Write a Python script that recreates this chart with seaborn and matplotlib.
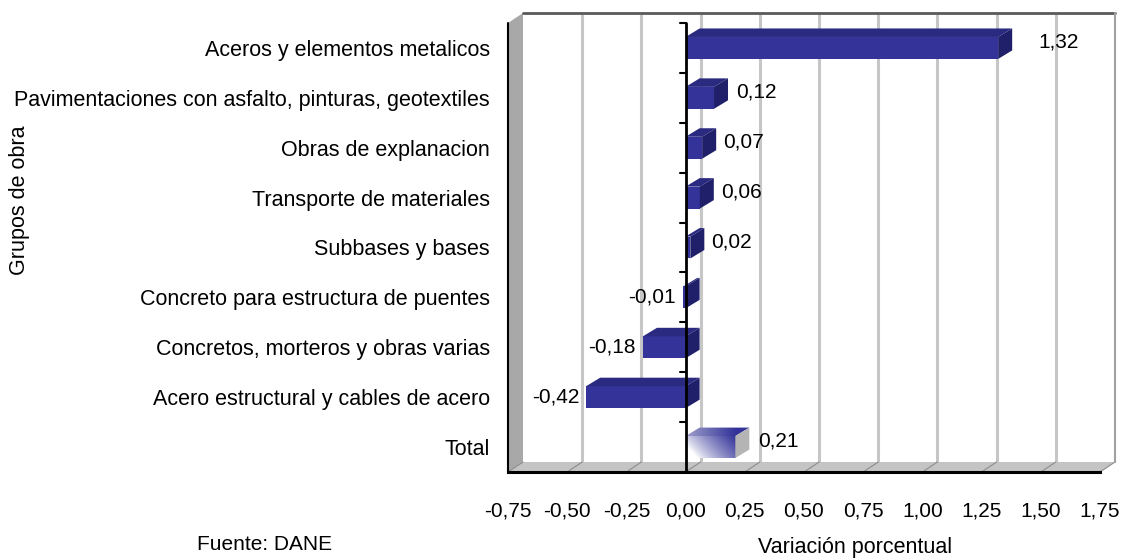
import numpy as np
import pandas as pd
import matplotlib
matplotlib.use("Agg")
import matplotlib.pyplot as plt
from matplotlib.patches import Polygon
import seaborn as sns

# ---------------- data ----------------
categories = [
    "Aceros y elementos metalicos",
    "Pavimentaciones con asfalto, pinturas, geotextiles",
    "Obras de explanacion",
    "Transporte de materiales",
    "Subbases y bases",
    "Concreto para estructura de puentes",
    "Concretos, morteros y obras varias",
    "Acero estructural y cables de acero",
    "Total",
]
values = [1.32, 0.12, 0.07, 0.06, 0.02, -0.01, -0.18, -0.42, 0.21]
value_labels = ["1,32", "0,12", "0,07", "0,06", "0,02", "-0,01", "-0,18", "-0,42", "0,21"]
xticks = [-0.75, -0.50, -0.25, 0.00, 0.25, 0.50, 0.75, 1.00, 1.25, 1.50, 1.75]
xtick_labels = ["-0,75", "-0,50", "-0,25", "0,00", "0,25", "0,50", "0,75",
                "1,00", "1,25", "1,50", "1,75"]
x_title = "Variación porcentual"
y_title = "Grupos de obra"
source = "Fuente: DANE"

# ---------------- style ----------------
sns.set_style("white")
plt.rcParams['font.family'] = ['Liberation Sans', 'DejaVu Sans']
plt.rcParams['text.color'] = 'black'
plt.rcParams['xtick.color'] = 'black'
plt.rcParams['ytick.color'] = 'black'
plt.rcParams['axes.labelcolor'] = 'black'

NAVY = "#333399"
TOP = "#2a2a80"
SIDE = "#20206a"

W, H = 1123, 560
fig = plt.figure(figsize=(W / 100, H / 100), dpi=100)
L, R, T, B = 508, 1100, 23, 472
ax = fig.add_axes([L / W, 1 - B / H, (R - L) / W, (B - T) / H])

df = pd.DataFrame({"grupo": categories, "valor": values})
sns.barplot(data=df, x="valor", y="grupo", orient="h", color=NAVY,
            saturation=1, width=0.44, linewidth=0, edgecolor="none",
            ax=ax, zorder=5)

n = len(categories)
ax.set_xlim(xticks[0], xticks[-1])
ax.set_ylim(n - 0.5, -0.5)
ax.set_xlabel("")
ax.set_ylabel("")

px_x = (R - L) / (xticks[-1] - xticks[0])   # pixels per data unit
px_y = (B - T) / n                            # pixels per category
DXw, DYw = 15 / px_x, 10 / px_y               # wall depth
DXb, DYb = 14 / px_x, 8.5 / px_y              # bar depth

x0a, x1a = xticks[0], xticks[-1]
ytop, ybot = -0.5, n - 0.5

# back wall
ax.add_patch(Polygon([(x0a + DXw, ytop - DYw), (x1a + DXw, ytop - DYw),
                      (x1a + DXw, ybot - DYw), (x0a + DXw, ybot - DYw)],
                     closed=True, facecolor="white", edgecolor="none",
                     zorder=0, clip_on=False))
# gridlines on back wall
for t in xticks[1:-1]:
    ax.plot([t + DXw, t + DXw], [ybot - DYw, ytop - DYw], color="#c6c6c6",
            lw=2.2, zorder=0.6, clip_on=False, solid_capstyle="butt")
# wall top and right border
ax.plot([x0a + DXw, x1a + DXw], [ytop - DYw, ytop - DYw], color="#5a5a5a",
        lw=2, zorder=1.5, clip_on=False)
ax.plot([x1a + DXw, x1a + DXw], [ytop - DYw, ybot - DYw], color="#a0a0a0",
        lw=1.5, zorder=1.5, clip_on=False)
# left side wall
ax.add_patch(Polygon([(x0a, ytop), (x0a + DXw, ytop - DYw),
                      (x0a + DXw, ybot - DYw), (x0a, ybot)],
                     closed=True, facecolor="#a8a8a8", edgecolor="none",
                     zorder=1, clip_on=False))
ax.plot([x0a, x0a], [ytop, ybot], color="black", lw=1.5, zorder=2, clip_on=False)
# floor
ax.add_patch(Polygon([(x0a, ybot), (x1a, ybot),
                      (x1a + DXw, ybot - DYw), (x0a + DXw, ybot - DYw)],
                     closed=True, facecolor="#c4c4c4", edgecolor="none",
                     zorder=1, clip_on=False))
for t in xticks:
    ax.plot([t, t + DXw], [ybot, ybot - DYw], color="#8c8c8c", lw=0.8,
            zorder=1.2, clip_on=False)

# ---------------- 3D bar faces ----------------
bars = [p for p in ax.patches if p.get_zorder() == 5][:n]
for i, p in enumerate(bars):
    xa = p.get_x(); w = p.get_width(); y0 = p.get_y(); h = p.get_height()
    xmin, xmax = min(xa, xa + w), max(xa, xa + w)
    yt, yb = min(y0, y0 + h), max(y0, y0 + h)
    top = Polygon([(xmin, yt), (xmax, yt), (xmax + DXb, yt - DYb), (xmin + DXb, yt - DYb)],
                  closed=True, facecolor=TOP, edgecolor="none", zorder=5)
    side = Polygon([(xmax, yt), (xmax + DXb, yt - DYb), (xmax + DXb, yb - DYb), (xmax, yb)],
                   closed=True, facecolor=SIDE, edgecolor="none", zorder=5)
    if categories[i] == "Total":
        p.set_facecolor("none")
        gx = np.linspace(0, 1, 120)[None, :]
        gy = np.linspace(0, 1, 40)[:, None]
        tt = np.clip(0.15 + 0.85 * gx - 0.35 * gy, 0, 1) ** 0.8
        white = np.array([1.0, 1.0, 1.0])
        navy = np.array([0x33, 0x33, 0x99]) / 255
        img = white[None, None, :] * (1 - tt[..., None]) + navy[None, None, :] * tt[..., None]
        ax.imshow(img, extent=(xmin, xmax, yb, yt), origin="upper",
                  aspect="auto", zorder=5, interpolation="bilinear")
        tt2 = np.clip(0.3 + 0.9 * gx, 0, 1) * np.ones_like(gy)
        light = np.array([0.80, 0.80, 0.88])
        img2 = light[None, None, :] * (1 - tt2[..., None]) + navy[None, None, :] * tt2[..., None]
        top.set_facecolor("none")
        ax.add_patch(top)
        im2 = ax.imshow(img2, extent=(xmin, xmax + DXb, yt, yt - DYb), origin="upper",
                        aspect="auto", zorder=5, interpolation="bilinear")
        im2.set_clip_path(top)
        side.set_facecolor("#b4b4b4")
        ax.add_patch(side)
    else:
        ax.add_patch(top)
        ax.add_patch(side)

ax.set_xlim(x0a, x1a)
ax.set_ylim(ybot, ytop)

# zero axis with category ticks
ax.plot([0, 0], [ytop, ybot], color="black", lw=2, zorder=8, clip_on=False)
for k in range(n + 1):
    yk = ytop + k
    ax.plot([-6 / px_x, 0], [yk, yk], color="black", lw=1.5, zorder=8, clip_on=False)

# value labels
for i, (v, lab) in enumerate(zip(values, value_labels)):
    if v >= 0:
        ax.text(v + (20 + 15 * v) / px_x, i - 6 / px_y, lab, ha="left", va="center",
                fontsize=15, color="black", zorder=9)
    else:
        ax.text(v - 7 / px_x, i, lab, ha="right", va="center",
                fontsize=15, color="black", zorder=9)

# axes styling
for s in ["top", "right", "left"]:
    ax.spines[s].set_visible(False)
ax.spines["bottom"].set_color("black")
ax.spines["bottom"].set_linewidth(2.2)
ax.spines["bottom"].set_zorder(7)
ax.set_xticks(xticks)
ax.set_xticklabels(xtick_labels, fontsize=15, color="black")
ax.tick_params(axis="x", direction="out", length=5, width=1.5, color="black",
               pad=16)
ax.set_yticks(range(n))
ax.set_yticklabels(categories, fontsize=15.5, color="black")
ax.tick_params(axis="y", length=0, pad=13)
ax.set_facecolor("none")
ax.grid(False)

fig.text(20 / W, 1 - 200 / H, y_title, rotation=90, ha="center", va="center",
         fontsize=15.5, color="black")
fig.text(855 / W, 1 - 548 / H, x_title, ha="center", va="center",
         fontsize=15.5, color="black")
fig.text(265 / W, 1 - 545 / H, source, ha="center", va="center",
         fontsize=15, color="black")

fig.savefig("out.png", dpi=100, facecolor="white")
